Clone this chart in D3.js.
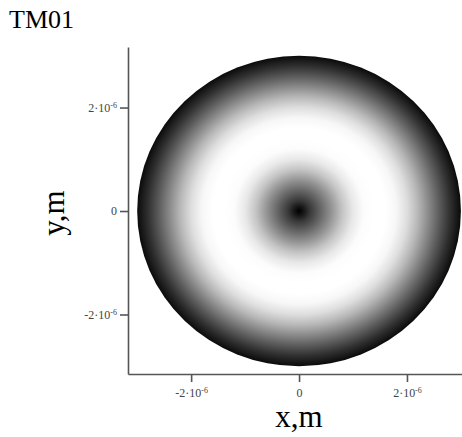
<!DOCTYPE html>
<html>
<head>
<meta charset="utf-8">
<script src="https://cdn.jsdelivr.net/npm/d3@7"></script>
<style>
  body { margin: 0; background: #fff; }
  text { font-family: "Liberation Serif", "Times New Roman", serif; }
</style>
</head>
<body>
<div id="chart"></div>
<script>
// radial intensity profile (radius in m, grey level 0=black 1=white)
var profileRadius = [0, 0.1e-6, 0.2e-6, 0.4e-6, 0.6e-6, 0.8e-6, 1.0e-6, 1.2e-6, 1.4e-6, 1.6e-6, 1.8e-6, 2.0e-6, 2.2e-6, 2.4e-6, 2.6e-6, 2.8e-6, 3.0e-6];
var profileGrey   = [0.0, 0.1, 0.22, 0.4, 0.58, 0.77, 0.91, 0.99, 1.0, 1.0, 0.97, 0.87, 0.72, 0.54, 0.36, 0.19, 0.04];
var apertureRadius = 3e-6;

var xTicks = [-2e-6, 0, 2e-6];
var yTicks = [-2e-6, 0, 2e-6];
var tickMantissa = ["-2·10", "0", "2·10"];
var tickExponent = ["-6", "", "-6"];

function init() {
  var width = 462, height = 437;

  var svg = d3.select("#chart")
    .append("svg")
    .attr("width", width)
    .attr("height", height);

  var x = d3.scaleLinear()
    .domain([-3.17e-6, 3.02e-6])
    .range([128, 462]);

  var y = d3.scaleLinear()
    .domain([-3.15e-6, 3.17e-6])
    .range([374, 47]);

  // gradient built from the profile
  var grad = svg.append("defs")
    .append("radialGradient")
    .attr("id", "mode")
    .attr("cx", "50%").attr("cy", "50%").attr("r", "50%");

  grad.selectAll("stop")
    .data(profileRadius)
    .enter()
    .append("stop")
    .attr("offset", function (d) { return (d / apertureRadius * 100) + "%"; })
    .attr("stop-color", function (d, i) {
      var g = Math.round(profileGrey[i] * 255);
      return d3.rgb(g, g, g).formatHex();
    });

  svg.append("ellipse")
    .attr("cx", x(0))
    .attr("cy", y(0))
    .attr("rx", x(apertureRadius) - x(0))
    .attr("ry", y(0) - y(apertureRadius))
    .style("fill", "url(#mode)");

  function label(sel) {
    sel.selectAll(".tick text").each(function (d, i) {
      var t = d3.select(this).text("");
      t.append("tspan").text(tickMantissa[i]);
      if (tickExponent[i]) {
        t.append("tspan")
          .attr("dy", "-0.5em")
          .style("font-size", "8px")
          .text(tickExponent[i]);
      }
    });
  }

  // X axis
  var gx = svg.append("g")
    .attr("transform", "translate(0,374)")
    .call(d3.axisBottom(x).tickValues(xTicks).tickSize(8).tickSizeOuter(0).tickPadding(6));
  label(gx);

  // Y axis
  var gy = svg.append("g")
    .attr("transform", "translate(128,0)")
    .call(d3.axisLeft(y).tickValues(yTicks).tickSize(8).tickSizeOuter(0).tickPadding(3));
  label(gy);

  svg.selectAll(".domain, .tick line")
    .style("stroke", "#555")
    .style("stroke-width", 1.6);
  svg.selectAll(".tick text")
    .style("font-family", "'Liberation Serif', serif")
    .style("font-size", "12px")
    .style("fill", "#444");

  // title
  svg.append("text")
    .attr("x", 9)
    .attr("y", 28)
    .style("font-size", "26px")
    .text("TM01");

  // axis labels
  svg.append("text")
    .attr("text-anchor", "middle")
    .attr("x", 299)
    .attr("y", 427)
    .style("font-size", "31px")
    .text("x,m");

  svg.append("text")
    .attr("text-anchor", "middle")
    .attr("transform", "translate(64,213) rotate(-90)")
    .style("font-size", "31px")
    .text("y,m");
}
window.onload = init;
</script>
</body>
</html>
